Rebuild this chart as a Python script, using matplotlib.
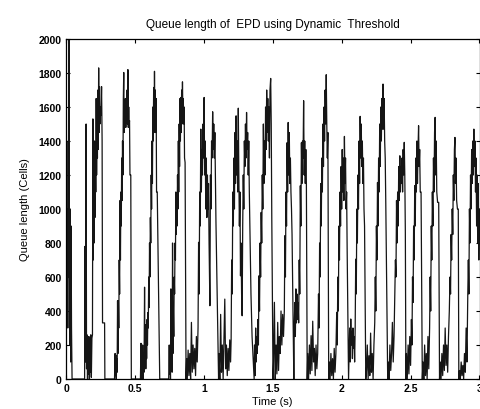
# Queue length of EPD using Dynamic Threshold

import matplotlib
matplotlib.use('Agg')
import matplotlib.pyplot as plt
import numpy as np

plt.rcParams['font.family'] = ['Liberation Sans', 'DejaVu Sans']

# start-up burst
t0 = [0.000, 0.002, 0.004, 0.007, 0.010, 0.013, 0.016, 0.019, 0.022, 0.025, 0.028, 0.031, 0.034, 0.037, 0.040, 0.044]
q0 = [0, 2000, 900, 400, 1000, 300, 1400, 600, 2000, 800, 200, 1000, 100, 900, 300, 0]

t1 = [0.130, 0.135, 0.137, 0.142, 0.146, 0.149, 0.152, 0.156, 0.160, 0.163, 0.166, 0.170, 0.174, 0.177, 0.180,
      0.184, 0.188, 0.192, 0.195, 0.198, 0.201, 0.204, 0.207, 0.210, 0.213, 0.216, 0.219, 0.222, 0.225, 0.228,
      0.231, 0.234, 0.237, 0.240, 0.243, 0.246, 0.250, 0.254, 0.258, 0.262, 0.265, 0.272, 0.280, 0.282]
q1 = [0, 0, 780, 100, 1500, 60, 260, 0, 220, 30, 250, 0, 200, 40, 260,
      10, 240, 260, 1530, 700, 1200, 800, 1400, 950, 1380, 1100, 1650, 1200, 1500, 1300,
      1700, 1350, 1830, 1450, 1720, 1500, 1600, 1550, 1720, 1400, 330, 330, 330, 0]

t2 = [0.352, 0.356, 0.359, 0.362, 0.365, 0.368, 0.371, 0.374, 0.377, 0.380, 0.383, 0.386, 0.389, 0.392,
      0.395, 0.398, 0.401, 0.404, 0.407, 0.410, 0.413, 0.416, 0.419, 0.422, 0.425, 0.428, 0.431, 0.434,
      0.437, 0.440, 0.443, 0.446, 0.449, 0.452, 0.455, 0.458, 0.461, 0.464, 0.470, 0.474]
q2 = [0, 150, 20, 140, 0, 120, 40, 460, 150, 460, 300, 700, 500, 1050,
      700, 1100, 900, 1300, 1050, 1400, 1200, 1650, 1803, 1450, 1550, 1500, 1650, 1480,
      1600, 1550, 1700, 1500, 1820, 1480, 1600, 1500, 1520, 1200, 1200, 0]

t3 = [0.540, 0.544, 0.547, 0.550, 0.553, 0.556, 0.559, 0.562, 0.566, 0.570, 0.573, 0.576, 0.579, 0.582,
      0.585, 0.588, 0.591, 0.594, 0.597, 0.600, 0.603, 0.606, 0.609, 0.612, 0.615, 0.618, 0.621, 0.624,
      0.627, 0.630, 0.633, 0.636, 0.639, 0.642, 0.645, 0.648, 0.651, 0.654, 0.657, 0.662, 0.680]
q3 = [0, 210, 0, 180, 30, 200, 0, 150, 40, 540, 100, 320, 60, 300,
      120, 350, 200, 390, 300, 600, 420, 800, 600, 950, 800, 1200, 1000, 1400,
      1150, 1600, 1400, 1715, 1450, 1810, 1500, 1700, 1450, 1650, 1100, 1100, 0]

t4 = [0.745, 0.749, 0.752, 0.755, 0.758, 0.761, 0.764, 0.767, 0.770, 0.773, 0.776, 0.779, 0.782, 0.785,
      0.788, 0.791, 0.794, 0.797, 0.800, 0.803, 0.806, 0.809, 0.812, 0.815, 0.818, 0.821, 0.824, 0.827,
      0.830, 0.833, 0.836, 0.839, 0.842, 0.845, 0.848, 0.851, 0.854, 0.857, 0.860, 0.864, 0.871]
q4 = [0, 200, 30, 180, 0, 530, 80, 200, 40, 800, 150, 400, 250, 600,
      500, 800, 700, 1100, 850, 1050, 900, 1200, 1000, 1400, 1100, 1500, 1250, 1650,
      1400, 1656, 1450, 1700, 1500, 1748, 1550, 1650, 1500, 1600, 1300, 1274, 0]

t5 = [0.875, 0.880, 0.886, 0.892, 0.898, 0.904, 0.910, 0.916, 0.922, 0.928, 0.934, 0.940, 0.946, 0.952, 0.958,
      0.962, 0.966, 0.970, 0.974, 0.978, 0.982, 0.986, 0.990, 0.994, 0.998, 1.002, 1.006, 1.010, 1.014,
      1.018, 1.022, 1.026, 1.030, 1.034, 1.038, 1.044,
      1.048, 1.052, 1.056, 1.060, 1.064, 1.068, 1.072, 1.076, 1.080, 1.088, 1.107]
q5 = [120, 0, 170, 20, 150, 0, 333, 40, 200, 60, 180, 20, 250, 100, 300,
      804, 500, 1100, 900, 1470, 1100, 1350, 1200, 1500, 1300, 1656, 1200, 1400, 1000,
      1300, 950, 1200, 1000, 1150, 800, 431,
      1200, 1000, 1400, 1300, 1572, 1350, 1500, 1300, 1450, 921, 0]

t6 = [1.110, 1.116, 1.122, 1.128, 1.134, 1.140, 1.146, 1.152, 1.158, 1.164, 1.170, 1.176, 1.182, 1.188, 1.194,
      1.198, 1.202, 1.206, 1.210, 1.214, 1.218, 1.222, 1.226, 1.230, 1.234, 1.238, 1.242, 1.246, 1.250,
      1.254, 1.258, 1.262, 1.266, 1.270, 1.274, 1.278,
      1.282, 1.286, 1.290, 1.294, 1.298, 1.302, 1.306, 1.310, 1.314, 1.318, 1.322, 1.326, 1.330, 1.336,
      1.342, 1.350, 1.365]
q6 = [150, 0, 380, 40, 200, 0, 250, 470, 60, 200, 20, 180, 50, 230, 100,
      230, 700, 500, 1100, 900, 1300, 1000, 1450, 1150, 1548, 1200, 1400, 1100, 1593,
      1200, 900, 1100, 607, 800, 500, 372,
      900, 1200, 1000, 1400, 1250, 1500, 1300, 1568, 1350, 1450, 1200, 1400, 1100, 804,
      500, 250, 0]

t7 = [1.368, 1.372, 1.376, 1.380, 1.384, 1.388, 1.392, 1.396, 1.400,
      1.404, 1.408, 1.412, 1.416, 1.420, 1.424, 1.428, 1.432, 1.436, 1.440, 1.444, 1.448, 1.452, 1.456,
      1.460, 1.464, 1.468, 1.472, 1.476, 1.480, 1.485, 1.489, 1.493, 1.502]
q7 = [200, 20, 300, 100, 250, 150, 350, 200, 607,
      400, 800, 600, 980, 800, 1200, 1000, 1500, 1150, 1400, 1200, 1600, 1350, 1700,
      1450, 1650, 1400, 1600, 1300, 1700, 1768, 1500, 950, 0]

t8 = [1.506, 1.512, 1.518, 1.524, 1.530, 1.536, 1.542, 1.548, 1.554, 1.560, 1.566, 1.572, 1.578, 1.584,
      1.588, 1.592, 1.596, 1.600, 1.604, 1.608, 1.612, 1.616, 1.620, 1.624, 1.628, 1.632, 1.636, 1.640, 1.653]
q8 = [100, 451, 0, 200, 30, 333, 50, 250, 150, 400, 200, 380, 250, 400,
      843, 600, 1100, 900, 1390, 1100, 1509, 1200, 1450, 1150, 1300, 1100, 1000, 850, 0]

t9 = [1.656, 1.660, 1.664, 1.668, 1.672, 1.676, 1.680, 1.684, 1.688,
      1.692, 1.696, 1.700, 1.704, 1.708, 1.712, 1.716, 1.720, 1.724, 1.728, 1.732, 1.736, 1.740, 1.744, 1.750]
q9 = [300, 450, 250, 530, 330, 500, 350, 450, 330,
      700, 500, 1137, 900, 1390, 1150, 1400, 1300, 1637, 1200, 1400, 1150, 1350, 1150, 0]

t10 = [1.754, 1.760, 1.766, 1.772, 1.778, 1.784, 1.790, 1.796, 1.802, 1.808, 1.814, 1.820, 1.826, 1.832,
       1.836, 1.840, 1.844, 1.848, 1.852, 1.856, 1.860, 1.864, 1.868, 1.872, 1.876, 1.880, 1.884, 1.888,
       1.892, 1.896, 1.900, 1.906]
q10 = [150, 0, 200, 30, 255, 50, 340, 100, 180, 20, 200, 60, 150, 500,
       300, 800, 600, 1150, 900, 1300, 1100, 1500, 1250, 1600, 1400, 1700, 1500, 1790,
       1500, 1300, 1450, 0]

t11 = [1.910, 1.916, 1.922, 1.928, 1.934, 1.940, 1.946, 1.952, 1.958, 1.964,
       1.968, 1.972, 1.976, 1.980, 1.984, 1.988, 1.992, 1.996, 2.000, 2.004, 2.008, 2.012, 2.016, 2.020,
       2.024, 2.028, 2.032, 2.036, 2.040, 2.050]
q11 = [100, 0, 150, 20, 120, 0, 180, 40, 150, 392,
       200, 600, 400, 900, 700, 1100, 900, 1250, 1000, 1350, 1100, 1300, 1050, 1427,
       1150, 1300, 1000, 1100, 745, 0]

t12 = [2.054, 2.058, 2.062, 2.066, 2.070, 2.074, 2.078, 2.082, 2.086, 2.090, 2.094, 2.098,
       2.102, 2.106, 2.110, 2.114, 2.118, 2.122, 2.126, 2.130, 2.134, 2.138, 2.142, 2.146, 2.150, 2.154,
       2.158, 2.162, 2.166, 2.175]
q12 = [150, 300, 100, 353, 200, 280, 120, 300, 180, 250, 100, 300,
       705, 500, 1000, 800, 1200, 1000, 1400, 1150, 1545, 1300, 1500, 1250, 1400, 1150,
       1300, 1000, 900, 0]

t13 = [2.180, 2.186, 2.192, 2.198, 2.204, 2.210, 2.216, 2.222, 2.228, 2.234, 2.240,
       2.244, 2.248, 2.252, 2.256, 2.260, 2.264, 2.268, 2.272, 2.276, 2.280, 2.284, 2.288, 2.292, 2.296,
       2.300, 2.304, 2.308, 2.312, 2.316, 2.320, 2.334]
q13 = [50, 200, 0, 137, 20, 270, 40, 150, 0, 200, 333,
       600, 400, 900, 700, 1156, 900, 1300, 1100, 1500, 1250, 1600, 1400, 1650, 1470,
       1735, 1470, 1650, 1400, 1300, 1039, 0]

t14 = [2.338, 2.344, 2.350, 2.356, 2.362, 2.368, 2.374, 2.380, 2.386,
       2.390, 2.394, 2.398, 2.402, 2.406, 2.410, 2.414, 2.418, 2.422, 2.426, 2.430, 2.434, 2.438, 2.442,
       2.446, 2.450, 2.454, 2.458, 2.462, 2.464, 2.466]
q14 = [100, 0, 200, 50, 150, 333, 100, 250, 500,
       700, 600, 1050, 800, 1100, 900, 1250, 1050, 1313, 1100, 1250, 1150, 1300, 1100,
       1350, 1200, 1392, 1200, 862, 400, 0]

t15 = [2.470, 2.476, 2.482, 2.488, 2.494, 2.500, 2.506,
       2.510, 2.514, 2.518, 2.522, 2.526, 2.530, 2.534, 2.538, 2.542, 2.546, 2.550, 2.554, 2.558, 2.562,
       2.566, 2.570, 2.576, 2.585]
q15 = [150, 0, 200, 30, 250, 80, 350,
       200, 600, 450, 900, 700, 1137, 900, 1300, 1100, 1400, 1150, 1350, 1490, 1250,
       1350, 1100, 1100, 0]

t16 = [2.590, 2.596, 2.602, 2.608, 2.614, 2.620, 2.626, 2.632, 2.638,
       2.642, 2.646, 2.650, 2.654, 2.658, 2.662, 2.666, 2.670, 2.674, 2.678, 2.682, 2.686, 2.690, 2.696,
       2.704, 2.710]
q16 = [100, 0, 200, 20, 150, 0, 250, 60, 300,
       600, 400, 900, 700, 1100, 900, 1300, 1100, 1450, 1539, 1200, 1400, 1100, 1039,
       1039, 0]

t17 = [2.715, 2.721, 2.727, 2.733, 2.739, 2.745, 2.751, 2.757, 2.763, 2.769, 2.775, 2.781,
       2.786, 2.790, 2.794, 2.798, 2.802, 2.806, 2.810, 2.814, 2.818, 2.822, 2.826, 2.830, 2.834, 2.840,
       2.846, 2.850]
q17 = [100, 0, 150, 20, 200, 50, 300, 80, 200, 40, 250, 400,
       600, 500, 850, 700, 1000, 850, 1200, 1050, 1350, 1421, 1150, 1300, 1050, 1000,
       1000, 0]

t18 = [2.855, 2.861, 2.867, 2.873, 2.879, 2.885, 2.891, 2.897, 2.903, 2.909, 2.915,
       2.919, 2.923, 2.927, 2.931, 2.935, 2.939, 2.943, 2.947, 2.951, 2.955, 2.959, 2.963, 2.967, 2.971,
       2.975, 2.979, 2.983, 2.987, 2.991, 2.995, 3.000]
q18 = [50, 0, 100, 20, 80, 0, 150, 40, 300, 100, 500,
       700, 500, 1000, 800, 1200, 1000, 1350, 1150, 1400, 1200, 1470, 1250, 1400, 1100,
       1300, 900, 1200, 800, 1150, 700, 1000]

T = np.concatenate([t0, t1, t2, t3, t4, t5, t6, t7, t8, t9, t10, t11, t12, t13, t14, t15, t16, t17, t18])
Q = np.concatenate([q0, q1, q2, q3, q4, q5, q6, q7, q8, q9, q10, q11, q12, q13, q14, q15, q16, q17, q18])

fig = plt.figure(figsize=(4.8, 4.1), dpi=100)
ax = fig.add_axes([66/480, 30/410, 413.5/480, 340/410])

ax.plot(T, Q, color='#151515', lw=0.9)

ax.set_xlim(0, 3)
ax.set_ylim(0, 2000)
ax.set_xticks([0, 0.5, 1, 1.5, 2, 2.5, 3])
ax.set_xticklabels(['0', '0.5', '1', '1.5', '2', '2.5', '3'])
ax.set_yticks(range(0, 2001, 200))
ax.tick_params(direction='in', top=True, right=True, length=3, width=0.8,
               labelsize=7.5, pad=3)
for lab in ax.get_xticklabels() + ax.get_yticklabels():
    lab.set_fontweight('bold')
for s in ax.spines.values():
    s.set_linewidth(0.9)

ax.set_title('Queue length of  EPD using Dynamic  Threshold', fontsize=8.5, pad=9)
ax.set_xlabel('Time (s)', fontsize=8, labelpad=2)
ax.set_ylabel('Queue length (Cells)', fontsize=8, labelpad=6)

fig.savefig('out.png', dpi=100)
